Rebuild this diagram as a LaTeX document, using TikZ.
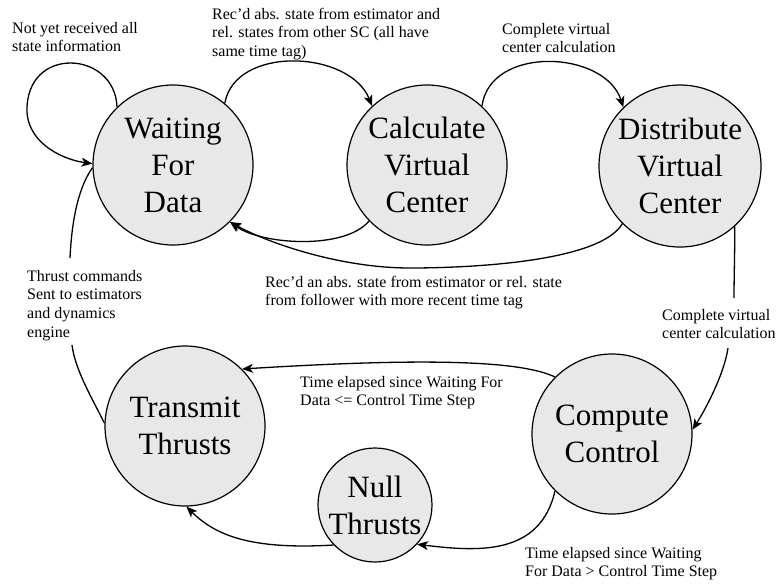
\documentclass[tikz,border=0pt]{standalone}
\usepackage{fontspec}
\setmainfont{Liberation Serif}
\usetikzlibrary{arrows.meta}
\definecolor{statefill}{RGB}{232,232,232}
\newcommand{\edgetext}[1]{\begin{tabular}[t]{@{}l@{}}#1\end{tabular}}
\tikzset{
  state/.style={circle, draw=black, line width=1.2pt, fill=statefill,
    inner sep=0pt, align=center, font=\fontsize{31}{37}\selectfont},
  edgelabel/.style={anchor=base west, inner sep=0pt,
    font=\fontsize{16}{18.7}\selectfont},
  trans/.style={line width=1.3pt, -{Stealth[length=11pt,width=9pt,inset=3pt]}},
  plainline/.style={line width=1.3pt}
}
\begin{document}
\begin{tikzpicture}[x=1pt,y=1pt]
\useasboundingbox (0,0) rectangle (781,-584);

% states
\node[state, minimum size=160pt] (W) at (173,-165) {Waiting\\For\\Data};
\node[state, minimum size=160pt] (C) at (427,-165) {Calculate\\Virtual\\Center};
\node[state, minimum size=162pt] (D) at (680,-166) {Distribute\\Virtual\\Center};
\node[state, minimum size=160pt] (P) at (612,-434) {Compute\\Control};
\node[state, minimum size=160pt] (T) at (185,-426) {Transmit\\Thrusts};
\node[state, minimum size=114pt] (N) at (375,-505) {Null\\Thrusts};

% transition labels
\node[edgelabel] (l1) at (12,-33) {\edgetext{Not yet received all\\state information}};
\node[edgelabel] (l2) at (212,-19) {\edgetext{Rec’d abs. state from estimator and\\rel. states from other SC (all have\\same time tag)}};
\node[edgelabel] (l3) at (502,-34) {\edgetext{Complete virtual\\center calculation}};
\node[edgelabel] (l4) at (265,-287) {\edgetext{Rec’d an abs. state from estimator or rel. state\\from follower with more recent time tag}};
\node[edgelabel] (l5) at (662,-320) {\edgetext{Complete virtual\\center calculation}};
\node[edgelabel] (l6) at (27,-281) {\edgetext{Thrust commands\\Sent to estimators\\and dynamics\\engine}};
\node[edgelabel] (l7) at (300,-387) {\edgetext{Time elapsed since Waiting For\\Data <= Control Time Step}};
\node[edgelabel] (l8) at (525,-558) {\edgetext{Time elapsed since Waiting\\For Data > Control Time Step}};

% ends of the split connectors around their labels
\coordinate (d5a) at (734,-298);
\coordinate (d5b) at (728,-348);
\coordinate (t6a) at (72,-345);
\coordinate (t6b) at (70,-258);

% transitions
\draw[trans] (W.134) .. controls (115,-50) and (25,-45) .. (27,-112)
             .. controls (29,-145) and (65,-160) .. (W.179);
\draw[trans] (W.50) .. controls (235,-45) and (350,-50) .. (C.133);
\draw[trans] (C.47) .. controls (490,-45) and (605,-50) .. (D.134);
\draw[trans] (C.224) .. controls (345,-250) and (262,-245) .. (W.-45);
\draw[trans] (D.225) .. controls (600,-262) and (470,-268) .. (410,-268)
             .. controls (340,-268) and (268,-243) .. (W.-45);
\draw[plainline] (D.-48) .. controls (735,-250) and (734,-275) .. (d5a);
\draw[trans] (d5b) .. controls (724,-375) and (705,-410) .. (P.3);
\draw[trans] (P.135) .. controls (520,-360) and (420,-358) .. (T.45);
\draw[trans] (P.225) .. controls (540,-555) and (480,-552) .. (N.-43);
\draw[trans] (N.224) .. controls (250,-550) and (215,-535) .. (T.-89);
\draw[plainline] (T.178) .. controls (93,-400) and (75,-370) .. (t6a);
\draw[plainline] (t6b) .. controls (72,-215) and (80,-185) .. (W.182);
\end{tikzpicture}
\end{document}
